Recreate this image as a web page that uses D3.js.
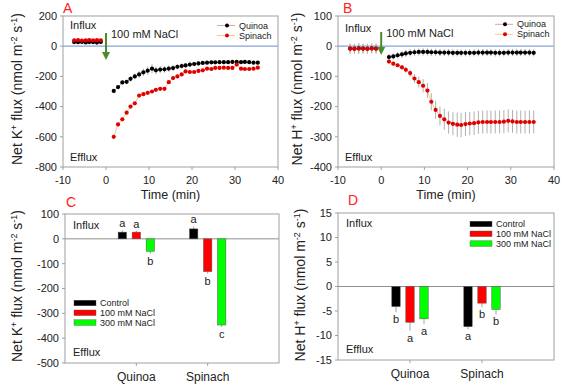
<!DOCTYPE html>
<html>
<head>
<meta charset="utf-8">
<script src="https://cdn.jsdelivr.net/npm/d3@7"></script>
<style>
  body { margin: 0; background: #fff; }
  text { font-family: "Liberation Sans", Arial, sans-serif; fill: #222; }
</style>
</head>
<body>
<script>
// time points (min)
const preTimesA = [-7.4, -6.5, -5.6, -4.7, -3.9, -3.0, -2.1, -1.2];
const preTimesB = [-7.2, -6.2, -5.2, -4.2, -3.2, -2.2, -1.2];
const postTimes = [1.8, 2.8, 3.8, 4.8, 5.7, 6.7, 7.7, 8.7, 9.7, 10.7, 11.6, 12.6, 13.6, 14.6, 15.6, 16.6, 17.6, 18.5,
    19.5, 20.5, 21.5, 22.5, 23.5, 24.5, 25.4, 26.4, 27.4, 28.4, 29.4, 30.4, 31.4, 32.3, 33.3, 34.3, 35.3];

// panel A: net K+ flux
const kQuinoaPre = [27, 26, 28, 25, 27, 26, 24, 28];
const kSpinachPre = [38, 40, 37, 39, 41, 38, 40, 39];
const kQuinoaPost = [-296, -271, -240, -236, -216, -200, -187, -173, -162, -149, -160, -155, -153, -148, -145, -136, -131, -127,
    -122, -118, -114, -111, -109, -107, -107, -106, -106, -106, -104, -104, -106, -104, -106, -109, -109];
const kQuinoaErr = [8, 10, 12, 14, 18, 20, 22, 25, 28, 30, 26, 24, 22, 22, 20, 18, 18, 16,
    15, 14, 14, 12, 12, 10, 10, 10, 10, 10, 10, 10, 10, 8, 8, 8, 8];
const kSpinachPost = [-600, -518, -484, -440, -400, -378, -327, -318, -309, -300, -289, -282, -282, -238, -211, -200, -187, -167,
    -171, -171, -164, -160, -149, -151, -144, -144, -142, -144, -144, -122, -149, -151, -151, -149, -142];
const kSpinachErr = [6, 6, 6, 6, 6, 6, 6, 6, 6, 6, 6, 6, 6, 8, 8, 8, 8, 8,
    6, 6, 6, 6, 6, 6, 6, 6, 6, 6, 6, 6, 6, 6, 6, 6, 6];

// panel B: net H+ flux
const hQuinoaPre = [-8, -8, -7, -8, -8, -7, -8];
const hSpinachPre = [-8, -9, -8, -8, -9, -8, -8];
const hPreErr = [16, 16, 17, 16, 16, 16, 16];
const hQuinoaPost = [-36, -34, -30, -27, -24, -22, -20, -19, -19, -19, -20, -20, -21, -21, -21, -22, -22, -22,
    -22, -22, -22, -21, -21, -21, -21, -22, -22, -22, -21, -21, -21, -21, -21, -21, -22];
const hQuinoaErr = [10, 10, 11, 12, 12, 12, 12, 12, 12, 12, 12, 12, 12, 12, 12, 12, 12, 12,
    12, 12, 12, 12, 12, 12, 12, 12, 12, 12, 12, 12, 12, 12, 12, 12, 12];
const hSpinachPost = [-51, -58, -63, -70, -78, -89, -107, -119, -131, -147, -184, -211, -231, -242, -253, -257, -260, -261,
    -258, -256, -255, -252, -251, -251, -251, -251, -251, -250, -247, -249, -251, -251, -251, -251, -251];
const hSpinachErr = [5, 5, 6, 8, 10, 12, 15, 18, 22, 25, 28, 30, 32, 35, 37, 38, 40, 40,
    40, 39, 39, 38, 38, 38, 38, 38, 38, 38, 38, 38, 38, 38, 38, 38, 38];

// panels C and D: bar charts
const species = ["Quinoa", "Spinach"];
const treatments = ["Control", "100 mM NaCl", "300 mM NaCl"];
const treatColors = ["#000000", "#ff0000", "#00ff00"];
const kBars = [[27, 27, -50], [40, -132, -347]];
const kBarErr = [[8, 6, 10], [10, 8, 8]];
const kLetters = [["a", "a", "b"], ["a", "b", "c"]];
const hBars = [[-4.1, -7.3, -6.6], [-8.2, -3.4, -4.7]];
const hBarErr = [[1.1, 1.7, 1.0], [0.5, 0.8, 1.0]];
const hLetters = [["b", "a", "a"], ["a", "b", "b"]];

const svg = d3.select("body").append("svg")
    .attr("width", 563).attr("height", 385)
    .style("background", "#fff");

const frameColor = "#a0a0a0";

// axis title with superscripts, rotated
function fluxTitle(ion, cx, cy) {
    const t = svg.append("text")
        .attr("transform", `translate(${cx},${cy}) rotate(-90)`)
        .attr("text-anchor", "middle")
        .attr("dy", "0.35em")
        .style("font-size", "14px");
    const parts = [["Net " + ion, 0], ["+", 1], [" flux (nmol m", 0], ["-2", 1], [" s", 0], ["-1", 1], [")", 0]];
    let up = false;
    parts.forEach(([s, sup]) => {
        const sp = t.append("tspan").text(s);
        if (sup) {
            sp.style("font-size", "9px").attr("dy", up ? 0 : -5);
            up = true;
        } else {
            sp.attr("dy", up ? 5 : 0);
            up = false;
        }
    });
}

function frame(x, y) {
    const [x0, x1] = x.range(), [y0, y1] = y.range();
    svg.append("rect")
        .attr("x", x0).attr("y", y1)
        .attr("width", x1 - x0).attr("height", y0 - y1)
        .attr("fill", "none").attr("stroke", frameColor).attr("stroke-width", 1);
}

function yTicks(y, x0, ticks) {
    ticks.forEach(v => {
        svg.append("line").attr("x1", x0 - 3).attr("x2", x0).attr("y1", y(v)).attr("y2", y(v))
            .attr("stroke", frameColor);
        svg.append("text").attr("x", x0 - 6).attr("y", y(v)).attr("dy", "0.35em")
            .attr("text-anchor", "end").style("font-size", "11px").text(v);
    });
}

function panelLabel(s, x, y) {
    svg.append("text").attr("x", x).attr("y", y).text(s)
        .style("font-size", "14px").style("fill", "#ff2020");
}

function note(s, x, y, size) {
    svg.append("text").attr("x", x).attr("y", y).attr("dy", "0.35em")
        .style("font-size", (size || 11) + "px").text(s);
}

function linePanel(o) {
    const x = d3.scaleLinear().domain([-10, 40]).range(o.xr);
    const y = d3.scaleLinear().domain(o.yd).range(o.yr);
    frame(x, y);
    yTicks(y, o.xr[0], o.yTicks);
    [-10, 0, 10, 20, 30, 40].forEach(v => {
        svg.append("line").attr("x1", x(v)).attr("x2", x(v)).attr("y1", o.yr[0]).attr("y2", o.yr[0] + 3)
            .attr("stroke", frameColor);
        svg.append("text").attr("x", x(v)).attr("y", o.yr[0] + 17)
            .attr("text-anchor", "middle").style("font-size", "11px").text(v);
    });
    // zero line
    svg.append("line").attr("x1", o.xr[0]).attr("x2", o.xr[1]).attr("y1", y(0)).attr("y2", y(0))
        .attr("stroke", "#86a2d4").attr("stroke-width", 1.2);

    const series = [
        { pre: o.qPre, post: o.qPost, preErr: o.qPreErr, err: o.qErr, line: "#d4a7ab", dot: "#000" },
        { pre: o.sPre, post: o.sPost, preErr: o.sPreErr, err: o.sErr, line: "#fbc58e", dot: "#e00000" }
    ];
    const line = d3.line().x(d => x(d.t)).y(d => y(d.v));

    series.forEach(s => {
        const pre = o.preTimes.map((t, i) => ({ t, v: s.pre[i], e: s.preErr[i] }));
        const post = postTimes.map((t, i) => ({ t, v: s.post[i], e: s.err[i] }));
        [pre, post].forEach(pts => {
            svg.selectAll(null).data(pts).enter().append("line")
                .attr("x1", d => x(d.t)).attr("x2", d => x(d.t))
                .attr("y1", d => y(d.v - d.e)).attr("y2", d => y(d.v + d.e))
                .attr("stroke", "#b0b0b0").attr("stroke-width", 1);
            svg.append("path").datum(pts).attr("d", line)
                .attr("fill", "none").attr("stroke", s.line).attr("stroke-width", 1);
        });
    });
    series.forEach(s => {
        const pts = o.preTimes.map((t, i) => ({ t, v: s.pre[i] }))
            .concat(postTimes.map((t, i) => ({ t, v: s.post[i] })));
        svg.selectAll(null).data(pts).enter().append("circle")
            .attr("cx", d => x(d.t)).attr("cy", d => y(d.v)).attr("r", 2.1)
            .attr("fill", s.dot);
    });

    // NaCl arrow
    const ax = x(0);
    svg.append("line").attr("x1", ax).attr("x2", ax).attr("y1", o.arrow[0]).attr("y2", o.arrow[1] - 6)
        .attr("stroke", "#4b8b2b").attr("stroke-width", 2);
    svg.append("path")
        .attr("d", `M${ax - 4},${o.arrow[1] - 8} L${ax + 4},${o.arrow[1] - 8} L${ax},${o.arrow[1]} Z`)
        .attr("fill", "#4b8b2b");
    note("100 mM NaCl", ax + 5, o.arrow[0] + 1, 11);
    note("Influx", o.xr[0] + 7, o.influxY);
    note("Efflux", o.xr[0] + 7, o.yr[0] - 10);

    // legend
    const lx = o.legend[0], ly = o.legend[1];
    [["Quinoa", "#d4a7ab", "#000"], ["Spinach", "#fbc58e", "#e00000"]].forEach(([name, lc, dc], i) => {
        const yy = ly + i * 10;
        svg.append("line").attr("x1", lx).attr("x2", lx + 18).attr("y1", yy).attr("y2", yy)
            .attr("stroke", lc).attr("stroke-width", 1);
        svg.append("circle").attr("cx", lx + 10).attr("cy", yy).attr("r", 2).attr("fill", dc);
        note(name, lx + 22, yy, 9);
    });

    svg.append("text").attr("x", (o.xr[0] + o.xr[1]) / 2).attr("y", o.yr[0] + 32)
        .attr("text-anchor", "middle").style("font-size", "12.5px").text("Time (min)");
}

function barPanel(o) {
    const x = d3.scaleLinear().domain([0, 3]).range(o.xr);
    const y = d3.scaleLinear().domain(o.yd).range(o.yr);
    const inner = d3.scaleBand().domain(treatments).range([-21, 21]).paddingInner(0.4).paddingOuter(0.2);
    frame(x, y);
    yTicks(y, o.xr[0], o.yTicks);
    svg.append("line").attr("x1", o.xr[0]).attr("x2", o.xr[1]).attr("y1", y(0)).attr("y2", y(0))
        .attr("stroke", "#909090").attr("stroke-width", 1);

    species.forEach((sp, si) => {
        const cx = x(si + 1);
        svg.append("line").attr("x1", cx).attr("x2", cx).attr("y1", o.yr[0]).attr("y2", o.yr[0] + 3)
            .attr("stroke", frameColor);
        svg.append("text").attr("x", cx).attr("y", o.yr[0] + 14).attr("dy", "0.35em")
            .attr("text-anchor", "middle").style("font-size", "12px").text(sp);

        const rows = treatments.map((tr, ti) => ({
            tr, v: o.vals[si][ti], e: o.errs[si][ti], l: o.letters[si][ti], c: treatColors[ti]
        }));
        const bx = d => cx + inner(d.tr);
        const end = d => d.v >= 0 ? d.v + d.e : d.v - d.e;
        svg.selectAll(null).data(rows).enter().append("line")
            .attr("x1", d => bx(d) + inner.bandwidth() / 2).attr("x2", d => bx(d) + inner.bandwidth() / 2)
            .attr("y1", d => y(d.v)).attr("y2", d => y(end(d)))
            .attr("stroke", "#a0a0a0");
        svg.selectAll(null).data(rows).enter().append("rect")
            .attr("x", bx).attr("width", inner.bandwidth())
            .attr("y", d => y(Math.max(0, d.v)))
            .attr("height", d => Math.abs(y(d.v) - y(0)))
            .attr("fill", d => d.c).attr("stroke", "#555").attr("stroke-width", 0.5);
        svg.selectAll(null).data(rows).enter().append("text")
            .attr("x", d => bx(d) + inner.bandwidth() / 2)
            .attr("y", d => d.v >= 0 ? y(end(d)) - 3 : y(end(d)) + 11)
            .attr("text-anchor", "middle").style("font-size", "11px")
            .text(d => d.l);
    });

    note("Influx", o.xr[0] + 8, o.influxY);
    note("Efflux", o.xr[0] + 8, o.yr[0] - 11);

    treatments.forEach((tr, i) => {
        const yy = o.legend[1] + i * 9.8;
        svg.append("rect").attr("x", o.legend[0]).attr("y", yy - 2.8)
            .attr("width", 22).attr("height", 5.6).attr("fill", treatColors[i])
            .attr("stroke", "#555").attr("stroke-width", 0.4);
        note(tr, o.legend[0] + 26, yy, 9);
    });
}

linePanel({
    xr: [63, 278], yd: [-800, 200], yr: [167, 16], yTicks: [200, 0, -200, -400, -600, -800],
    preTimes: preTimesA,
    qPre: kQuinoaPre, qPreErr: kQuinoaPre.map(() => 4), qPost: kQuinoaPost, qErr: kQuinoaErr,
    sPre: kSpinachPre, sPreErr: kSpinachPre.map(() => 4), sPost: kSpinachPost, sErr: kSpinachErr,
    arrow: [33, 60], influxY: 25, legend: [217, 25.5]
});
fluxTitle("K", 22, 89);
panelLabel("A", 63, 13);

linePanel({
    xr: [338, 554], yd: [-400, 100], yr: [167, 16], yTicks: [100, 0, -100, -200, -300, -400],
    preTimes: preTimesB,
    qPre: hQuinoaPre, qPreErr: hPreErr, qPost: hQuinoaPost, qErr: hQuinoaErr,
    sPre: hSpinachPre, sPreErr: hPreErr, sPost: hSpinachPost, sErr: hSpinachErr,
    arrow: [32, 55], influxY: 28, legend: [495, 24.3]
});
fluxTitle("H", 302, 89);
panelLabel("B", 343, 13);

barPanel({
    xr: [65, 279], yd: [-500, 100], yr: [363, 214], yTicks: [100, 0, -100, -200, -300, -400, -500],
    vals: kBars, errs: kBarErr, letters: kLetters, influxY: 225, legend: [74, 303]
});
fluxTitle("K", 22, 286);
panelLabel("C", 66, 207);

barPanel({
    xr: [338, 554], yd: [-15, 15], yr: [360, 213], yTicks: [15, 10, 5, 0, -5, -10, -15],
    vals: hBars, errs: hBarErr, letters: hLetters, influxY: 223, legend: [470, 224]
});
fluxTitle("H", 305, 285);
panelLabel("D", 348, 205);
</script>
</body>
</html>
